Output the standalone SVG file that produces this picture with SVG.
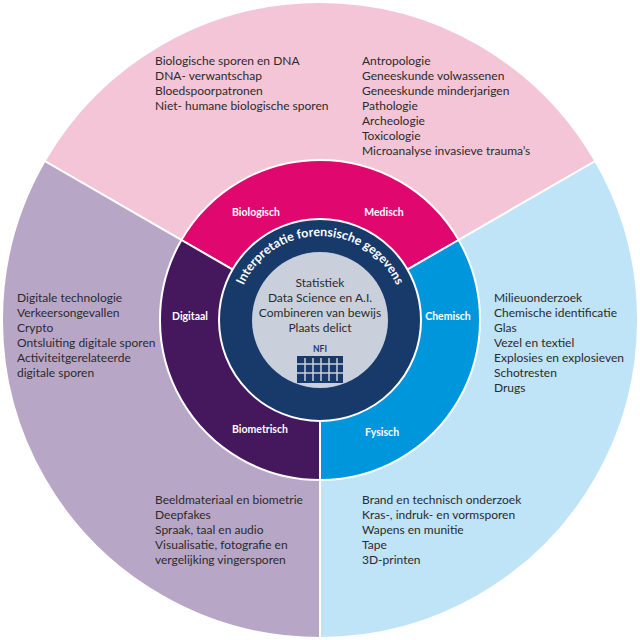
<svg xmlns="http://www.w3.org/2000/svg" width="640" height="640" viewBox="0 0 640 640">
<style>
.t{font-family:"Lato","Liberation Sans",sans-serif;font-size:12px;fill:#2b2b2b}
.l{font-family:"Lato","Liberation Sans",sans-serif;font-size:10.5px;font-weight:bold;fill:#fff;text-anchor:middle}
.s{stroke:#fff;stroke-width:2}
</style>
<defs>
<path id="arc" d="M236,320 A84,84 0 0 1 404,320"/>
</defs>
<g id="outer">
<path class="s" d="M320,320 L44.6,161 A318,318 0 0 1 595.4,161 Z" fill="#f4c5d6"/>
<path class="s" d="M320,320 L595.4,161 A318,318 0 0 1 320,638 Z" fill="#bfe3f7"/>
<path class="s" d="M320,320 L320,638 A318,318 0 0 1 44.6,161 Z" fill="#b8a6c7"/>
</g>
<g id="ring">
<path class="s" d="M320,320 L181.4,240 A160,160 0 0 1 458.6,240 Z" fill="#e0086e"/>
<path class="s" d="M320,320 L458.6,240 A160,160 0 0 1 320,480 Z" fill="#0096db"/>
<path class="s" d="M320,320 L320,480 A160,160 0 0 1 181.4,240 Z" fill="#45175c"/>
</g>
<g id="center">
<circle cx="320" cy="320" r="101" fill="#173a6b" stroke="#fff" stroke-width="2"/>
<circle cx="320" cy="320" r="68" fill="#c9d0dc"/>
<text font-family="Lato,'Liberation Sans',sans-serif" font-size="12.5" font-weight="bold" fill="#fff" text-anchor="middle"><textPath href="#arc" startOffset="50%">Interpretatie forensische gegevens</textPath></text>
<text class="t" text-anchor="middle"><tspan x="320" y="287">Statistiek</tspan><tspan x="320" y="302">Data Science en A.I.</tspan><tspan x="320" y="317">Combineren van bewijs</tspan><tspan x="320" y="332">Plaats delict</tspan></text>
<text x="320" y="352" font-family="Lato,'Liberation Sans',sans-serif" font-size="8.5" font-weight="bold" fill="#173a6b" text-anchor="middle">NFI</text>
<rect x="297" y="356" width="46" height="27" fill="#173a6b"/>
<g stroke="#c9d0dc" stroke-width="1.5">
<line x1="297" y1="364" x2="343" y2="364"/><line x1="297" y1="373" x2="343" y2="373"/>
<line x1="305" y1="358" x2="305" y2="381"/><line x1="313" y1="358" x2="313" y2="381"/><line x1="321" y1="358" x2="321" y2="381"/><line x1="329" y1="358" x2="329" y2="381"/><line x1="337" y1="358" x2="337" y2="381"/>
</g>
</g>
<g id="labels">
<text class="l" x="256" y="216">Biologisch</text>
<text class="l" x="384" y="216">Medisch</text>
<text class="l" x="190" y="320">Digitaal</text>
<text class="l" x="448" y="320">Chemisch</text>
<text class="l" x="260" y="433">Biometrisch</text>
<text class="l" x="382" y="436">Fysisch</text>
</g>
<g id="texts" class="t">
<text class="t"><tspan x="155" y="65">Biologische sporen en DNA</tspan><tspan x="155" y="80">DNA- verwantschap</tspan><tspan x="155" y="95">Bloedspoorpatronen</tspan><tspan x="155" y="110">Niet- humane biologische sporen</tspan></text>
<text class="t"><tspan x="362" y="65">Antropologie</tspan><tspan x="362" y="80">Geneeskunde volwassenen</tspan><tspan x="362" y="95">Geneeskunde minderjarigen</tspan><tspan x="362" y="110">Pathologie</tspan><tspan x="362" y="125">Archeologie</tspan><tspan x="362" y="140">Toxicologie</tspan><tspan x="362" y="155">Microanalyse invasieve trauma’s</tspan></text>
<text class="t"><tspan x="17" y="302">Digitale technologie</tspan><tspan x="17" y="317">Verkeersongevallen</tspan><tspan x="17" y="332">Crypto</tspan><tspan x="17" y="347">Ontsluiting digitale sporen</tspan><tspan x="17" y="362">Activiteitgerelateerde</tspan><tspan x="17" y="377">digitale sporen</tspan></text>
<text class="t"><tspan x="494" y="302">Milieuonderzoek</tspan><tspan x="494" y="317">Chemische identificatie</tspan><tspan x="494" y="332">Glas</tspan><tspan x="494" y="347">Vezel en textiel</tspan><tspan x="494" y="362">Explosies en explosieven</tspan><tspan x="494" y="377">Schotresten</tspan><tspan x="494" y="392">Drugs</tspan></text>
<text class="t"><tspan x="155" y="504">Beeldmateriaal en biometrie</tspan><tspan x="155" y="519">Deepfakes</tspan><tspan x="155" y="534">Spraak, taal en audio</tspan><tspan x="155" y="549">Visualisatie, fotografie en</tspan><tspan x="155" y="564">vergelijking vingersporen</tspan></text>
<text class="t"><tspan x="362" y="504">Brand en technisch onderzoek</tspan><tspan x="362" y="519">Kras-, indruk- en vormsporen</tspan><tspan x="362" y="534">Wapens en munitie</tspan><tspan x="362" y="549">Tape</tspan><tspan x="362" y="564">3D-printen</tspan></text>
</g>
</svg>
